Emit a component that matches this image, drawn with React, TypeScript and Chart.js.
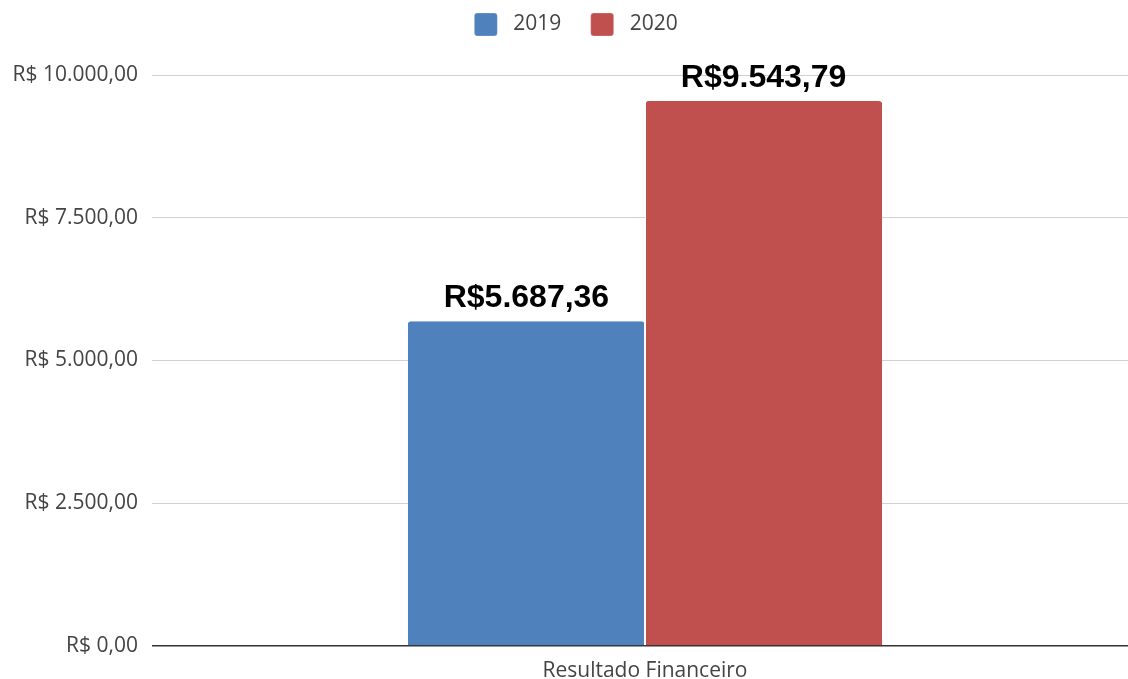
import React, { useEffect, useRef } from "react";
import { Chart, registerables } from "chart.js";

Chart.register(...registerables);

const categories = ["Resultado Financeiro"];
const seriesNames = ["2019", "2020"];
const values2019 = [5687.36];
const values2020 = [9543.79];
const seriesColors = ["#4f81bd", "#c0504d"];
const yTicks = [0, 2500, 5000, 7500, 10000];

function fmtBR(v: number): string {
  const neg = v < 0;
  const abs = Math.abs(v);
  const fixed = abs.toFixed(2);
  const [intPart, dec] = fixed.split(".");
  const withDots = intPart.replace(/\B(?=(\d{3})+(?!\d))/g, ".");
  return (neg ? "-" : "") + withDots + "," + dec;
}

const dataLabelPlugin = {
  id: "dataLabels",
  afterDatasetsDraw(chart: any) {
    const ctx = chart.ctx;
    ctx.save();
    ctx.font = "bold 32px 'Liberation Sans', Arial, sans-serif";
    ctx.fillStyle = "#000";
    ctx.textAlign = "center";
    ctx.textBaseline = "alphabetic";
    chart.data.datasets.forEach((ds: any, i: number) => {
      const meta = chart.getDatasetMeta(i);
      meta.data.forEach((bar: any, j: number) => {
        const v = ds.data[j];
        ctx.fillText("R$" + fmtBR(v), bar.x, bar.y - 14);
      });
    });
    ctx.restore();
  },
};

const legendSpacePlugin = {
  id: "legendSpace",
  beforeInit(chart: any) {
    const lg = chart.legend;
    if (!lg) return;
    const orig = lg.fit;
    lg.fit = function () {
      orig.call(this);
      this.height += 29;
    };
  },
  afterLayout(chart: any) {
    const lg = chart.legend;
    if (lg) lg.left += 24;
  },
};

export default function App() {
  const ref = useRef<HTMLCanvasElement | null>(null);
  useEffect(() => {
    document.body.style.margin = "0";
    if (!ref.current) return;
    const chart = new Chart(ref.current, {
      type: "bar",
      data: {
        labels: categories,
        datasets: [
          {
            label: seriesNames[0],
            data: values2019,
            backgroundColor: seriesColors[0],
            borderColor: "#ffffff",
            borderWidth: { left: 0, right: 1, top: 0, bottom: 0 },
            borderRadius: { topLeft: 3, topRight: 3, bottomLeft: 0, bottomRight: 0 },
            borderSkipped: false,
          },
          {
            label: seriesNames[1],
            data: values2020,
            backgroundColor: seriesColors[1],
            borderColor: "#ffffff",
            borderWidth: { left: 1, right: 0, top: 0, bottom: 0 },
            borderRadius: { topLeft: 3, topRight: 3, bottomLeft: 0, bottomRight: 0 },
            borderSkipped: false,
          },
        ],
      },
      options: {
        animation: false,
        responsive: true,
        maintainAspectRatio: false,
        layout: { padding: { top: 0, right: 0, bottom: 0, left: 0 } },
        datasets: {
          bar: { barPercentage: 1, categoryPercentage: 0.491 },
        },
        plugins: {
          legend: {
            position: "top",
            labels: {
              boxWidth: 23,
              boxHeight: 23,
              useBorderRadius: true,
              borderRadius: 3,
              padding: 13,
              color: "#444",
              font: { family: "'Open Sans', sans-serif", size: 21 },
              generateLabels(chart: any) {
                const base = Chart.defaults.plugins.legend.labels.generateLabels(chart);
                return base.map((it: any, i: number) => ({
                  ...it,
                  text: " " + it.text + (i < base.length - 1 ? "   " : ""),
                }));
              },
            },
          },
          tooltip: { enabled: false },
        },
        scales: {
          x: {
            grid: { display: false, drawTicks: false },
            border: { display: false },
            ticks: {
              color: "#444",
              padding: 12,
              font: { family: "'Open Sans', sans-serif", size: 21 },
            },
            afterFit(scale: any) {
              scale.height = 33;
            },
          },
          y: {
            min: 0,
            max: 10000,
            afterBuildTicks(scale: any) {
              scale.ticks = yTicks.map((v) => ({ value: v }));
            },
            grid: {
              color: (c: any) => (c.tick && c.tick.value === 0 ? "#333" : "#d0d0d0"),
              lineWidth: (c: any) => (c.tick && c.tick.value === 0 ? 1.5 : 1),
              tickLength: 10,
              drawTicks: true,
            },
            border: { display: false },
            ticks: {
              color: "#444",
              padding: 14,
              font: { family: "'Open Sans', sans-serif", size: 21 },
              callback: (v: any) => "R$ " + fmtBR(Number(v)),
            },
            afterFit(scale: any) {
              scale.width = 162;
            },
          },
        },
      },
      plugins: [dataLabelPlugin, legendSpacePlugin],
    });
    return () => chart.destroy();
  }, []);
  return (
    <div style={{ width: 1128, height: 679, position: "relative" }}>
      <canvas ref={ref} />
    </div>
  );
}
